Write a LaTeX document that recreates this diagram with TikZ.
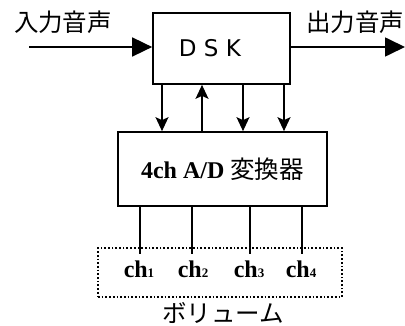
\documentclass[tikz,border=0pt]{standalone}
\usepackage{fontspec}
\setmainfont{Liberation Serif}
\newfontfamily\jpfont{Noto Sans CJK JP}
\newfontfamily\dvsans{DejaVu Sans}
\usetikzlibrary{arrows.meta}
\tikzset{
  blk/.style={draw, line width=1.7pt, rectangle, inner sep=0pt},
  conn/.style={line width=1.7pt},
  bigarr/.style={line width=1.7pt, -{Triangle[length=20pt,width=19pt]}},
  smallarr/.style={line width=1.7pt, -{Stealth[length=14pt,width=13pt,inset=3pt]}},
  jp/.style={font=\jpfont\fontsize{24.5}{24.5}\selectfont, inner sep=0pt},
  chlab/.style={font=\bfseries\fontsize{24}{24}\selectfont, inner sep=0pt, anchor=base},
}
\newcommand{\sm}[1]{{\fontsize{13}{13}\selectfont #1}}
\begin{document}
\begin{tikzpicture}[x=1pt,y=-1pt]
\useasboundingbox (0,0) rectangle (405,326);
% blocks
\node[blk, minimum width=137pt, minimum height=71pt] (dsk) at (221.5,48.5) {};
\node[font=\dvsans\fontsize{23}{23}\selectfont, inner sep=0pt] (dsktxt) at (210,48) {D S K};
\node[blk, minimum width=209pt, minimum height=74pt,
      font=\bfseries\fontsize{24}{24}\selectfont] (ad) at (222.5,169) {4ch A/D {\jpfont\mdseries\fontsize{24.5}{24.5}\selectfont 変換器}};
\node[draw, dotted, line width=1.7pt, minimum width=244pt, minimum height=49pt, inner sep=0pt] (vol) at (220,272.5) {};
% labels
\node[jp] (inlab) at (63,22) {入力音声};
\node[jp] (outlab) at (355,22) {出力音声};
\node[jp, anchor=base, text depth=0pt] (vollab) at (223,323) {ボリューム};
% input/output
\coordinate (inp) at (29,47);
\coordinate (outp) at (405,47);
\draw[bigarr] (inp) -- (inp -| dsk.west);
\draw[bigarr] (outp -| dsk.east) -- (outp);
% DSK <-> AD
\coordinate (t1) at (162,0);
\coordinate (t2) at (202,0);
\coordinate (t3) at (243,0);
\coordinate (t4) at (284,0);
\draw[smallarr] (dsk.south -| t1) -- (ad.north -| t1);
\draw[smallarr] (ad.north -| t2) -- (dsk.south -| t2);
\draw[smallarr] (dsk.south -| t3) -- (ad.north -| t3);
\draw[smallarr] (dsk.south -| t4) -- (ad.north -| t4);
% channels
\node[chlab] (ch1) at (139,278) {ch\sm{1}};
\node[chlab] (ch2) at (193,278) {ch\sm{2}};
\node[chlab] (ch3) at (249,278) {ch\sm{3}};
\node[chlab] (ch4) at (301,278) {ch\sm{4}};
\coordinate (b1) at (140,254);
\coordinate (b2) at (192,254);
\coordinate (b3) at (250,254);
\coordinate (b4) at (302,254);
\draw[conn] (ad.south -| b1) -- (b1);
\draw[conn] (ad.south -| b2) -- (b2);
\draw[conn] (ad.south -| b3) -- (b3);
\draw[conn] (ad.south -| b4) -- (b4);
\end{tikzpicture}
\end{document}
